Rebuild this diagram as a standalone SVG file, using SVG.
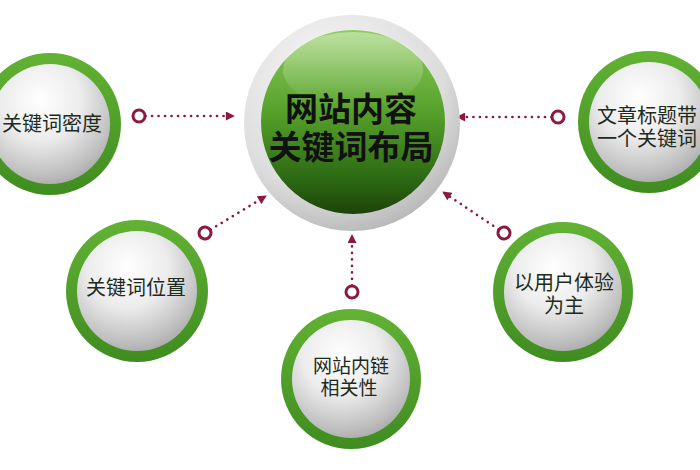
<svg xmlns="http://www.w3.org/2000/svg" width="700" height="470" viewBox="0 0 700 470">
<style>
.ring{fill:url(#ringG)}
.ball{fill:url(#ballG)}
.lbl{font-family:"Liberation Sans","Noto Sans CJK SC",sans-serif;font-size:20px;fill:#1d2b1d;text-anchor:middle}
.sm{font-size:19px}
.ctr{font-family:"Liberation Sans","Noto Sans CJK SC",sans-serif;font-size:33px;font-weight:bold;fill:#111;text-anchor:middle}
.con{fill:none;stroke:#8c1a3c;stroke-width:2.6;stroke-linecap:round;stroke-dasharray:0.1 6.4}
</style>
<defs>
<linearGradient id="ringG" x1="0" y1="0" x2="0" y2="1">
<stop offset="0" stop-color="#62b234"/>
<stop offset="1" stop-color="#3f8c20"/>
</linearGradient>
<radialGradient id="ballG" cx="0.42" cy="0.3" r="0.75">
<stop offset="0" stop-color="#ffffff"/>
<stop offset="0.45" stop-color="#ececec"/>
<stop offset="0.85" stop-color="#bdbdbd"/>
<stop offset="1" stop-color="#a6a6a6"/>
</radialGradient>
<radialGradient id="greyG" cx="0.4" cy="0.3" r="0.75">
<stop offset="0" stop-color="#fafafa"/>
<stop offset="0.7" stop-color="#dcdcdc"/>
<stop offset="1" stop-color="#b4b4b4"/>
</radialGradient>
<linearGradient id="greenG" x1="0" y1="0" x2="0" y2="1">
<stop offset="0" stop-color="#8fcc5e"/>
<stop offset="0.45" stop-color="#55a02a"/>
<stop offset="0.8" stop-color="#2e6b14"/>
<stop offset="1" stop-color="#1c4409"/>
</linearGradient>
<linearGradient id="glossG" x1="0" y1="0" x2="0" y2="1">
<stop offset="0" stop-color="#fff" stop-opacity="0.4"/>
<stop offset="1" stop-color="#fff" stop-opacity="0"/>
</linearGradient>
<marker id="arr" viewBox="0 0 10 10" refX="9" refY="5" markerWidth="10" markerHeight="9" markerUnits="userSpaceOnUse" orient="auto">
<path d="M0,0 L10,5 L0,10 z" fill="#8c1a3c"/>
</marker>
<marker id="dot" viewBox="-10 -10 20 20" refX="0" refY="0" markerWidth="20" markerHeight="20" markerUnits="userSpaceOnUse" orient="auto">
<circle r="6" fill="#fff" stroke="#8c1a3c" stroke-width="3"/>
</marker>
</defs>
<rect width="700" height="470" fill="#fff"/>
<g id="connectors">
<path class="con" d="M139,116 L234,116" marker-start="url(#dot)" marker-end="url(#arr)"/>
<path class="con" d="M558,117 L457,117" marker-start="url(#dot)" marker-end="url(#arr)"/>
<path class="con" d="M205,233 L266,196" marker-start="url(#dot)" marker-end="url(#arr)"/>
<path class="con" d="M352,292 L352,235" marker-start="url(#dot)" marker-end="url(#arr)"/>
<path class="con" d="M504,233 L443,192" marker-start="url(#dot)" marker-end="url(#arr)"/>
</g>
<g id="center">
<circle cx="352" cy="123" r="108" fill="url(#greyG)"/>
<circle cx="353" cy="122" r="92" fill="url(#greenG)"/>
<ellipse cx="353" cy="70" rx="70" ry="38" fill="url(#glossG)"/>
<text class="ctr" x="351" y="121">网站内容</text>
<text class="ctr" x="351" y="159">关键词布局</text>
</g>
<g id="n-density">
<circle class="ring" cx="50" cy="124" r="71"/>
<circle class="ball" cx="50" cy="124" r="60"/>
<text class="lbl" x="52" y="131">关键词密度</text>
</g>
<g id="n-title">
<circle class="ring" cx="649" cy="122" r="71"/>
<circle class="ball" cx="649" cy="122" r="60"/>
<text class="lbl" x="647" y="123">文章标题带</text>
<text class="lbl" x="647" y="146">一个关键词</text>
</g>
<g id="n-position">
<circle class="ring" cx="137" cy="291" r="71"/>
<circle class="ball" cx="137" cy="291" r="60"/>
<text class="lbl" x="136" y="295">关键词位置</text>
</g>
<g id="n-internal">
<circle class="ring" cx="351" cy="379" r="70"/>
<circle class="ball" cx="351" cy="379" r="59"/>
<text class="lbl sm" x="351" y="373">网站内链</text>
<text class="lbl sm" x="349" y="395">相关性</text>
</g>
<g id="n-ux">
<circle class="ring" cx="563" cy="292" r="70"/>
<circle class="ball" cx="563" cy="292" r="59"/>
<text class="lbl" x="564" y="290">以用户体验</text>
<text class="lbl" x="564" y="313">为主</text>
</g>
</svg>
